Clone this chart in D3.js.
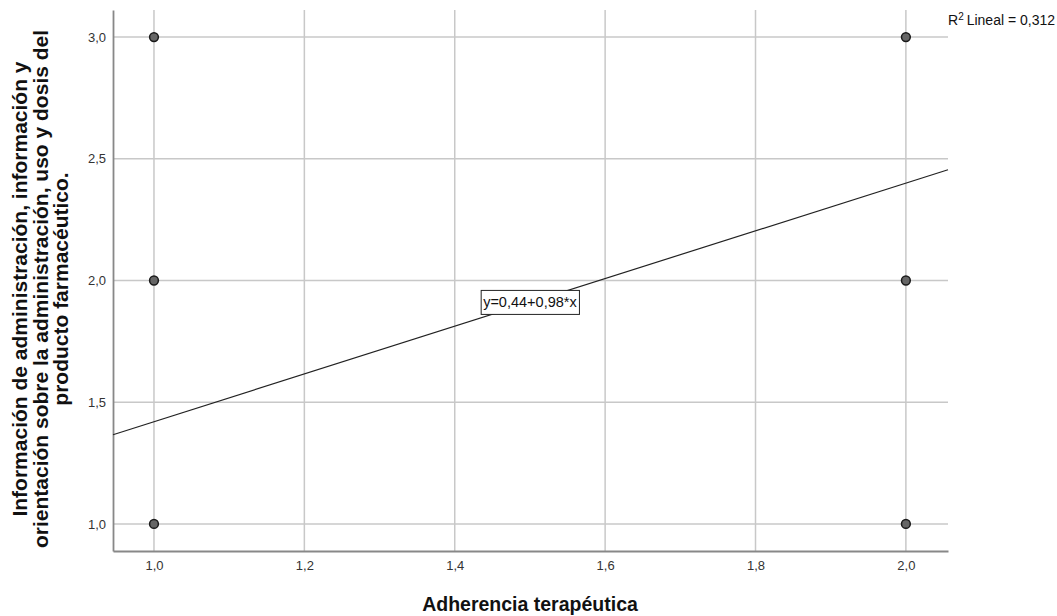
<!DOCTYPE html>
<html>
<head>
<meta charset="utf-8">
<script src="https://cdn.jsdelivr.net/npm/d3@7"></script>
<style>
  body { margin: 0; background: #fff; }
  svg { display: block; }
  text { font-family: Arial, "Liberation Sans", sans-serif; }
</style>
</head>
<body>
<svg id="chart" width="1057" height="616"></svg>
<script>
// Data
const xValues = [1, 1, 1, 2, 2, 2];
const yValues = [3, 2, 1, 3, 2, 1];
const xTicks = [1.0, 1.2, 1.4, 1.6, 1.8, 2.0];
const yTicks = [1.0, 1.5, 2.0, 2.5, 3.0];
const intercept = 0.44;
const slope = 0.98;
const equationLabel = "y=0,44+0,98*x";
const r2Label = "Lineal = 0,312";
const xTitle = "Adherencia terapéutica";
const yTitleLines = [
  "Información de administración, información y",
  "orientación sobre la administración, uso y dosis del",
  "producto farmacéutico."
];

const svg = d3.select("#chart");
const pLeft = 113, pRight = 948, pTop = 10, pBottom = 551;

const x = d3.scaleLinear().domain([0.9455, 2.056]).range([pLeft, pRight]);
const y = d3.scaleLinear().domain([0.889, 3.111]).range([pBottom, pTop]);
const fmt = d => d3.format(".1f")(d).replace(".", ",");

// grid
svg.append("g").selectAll("line").data(yTicks).join("line")
  .attr("x1", pLeft).attr("x2", pRight)
  .attr("y1", d => y(d)).attr("y2", d => y(d))
  .attr("stroke", "#c8c8c8").attr("stroke-width", 1.5);
svg.append("g").selectAll("line").data(xTicks).join("line")
  .attr("y1", pTop).attr("y2", pBottom)
  .attr("x1", d => x(d)).attr("x2", d => x(d))
  .attr("stroke", "#c8c8c8").attr("stroke-width", 1.5);

// axes
const yAxis = svg.append("g").attr("transform", `translate(${pLeft},0)`)
  .call(d3.axisLeft(y).tickValues(yTicks).tickFormat(fmt).tickSize(0).tickPadding(7));
const xAxis = svg.append("g").attr("transform", `translate(0,${pBottom})`)
  .call(d3.axisBottom(x).tickValues(xTicks).tickFormat(fmt).tickSize(0).tickPadding(10));
[yAxis, xAxis].forEach(g => {
  g.select(".domain").attr("stroke", "#888888").attr("stroke-width", 1.8);
  g.selectAll("text").attr("font-size", 13).attr("fill", "#333333")
    .attr("font-family", "Arial, 'Liberation Sans', sans-serif");
});

// regression line
const [d0, d1] = x.domain();
svg.append("line")
  .attr("x1", x(d0)).attr("y1", y(intercept + slope * d0))
  .attr("x2", x(d1)).attr("y2", y(intercept + slope * d1))
  .attr("stroke", "#222222").attr("stroke-width", 1.2);

// points
svg.append("g").selectAll("circle").data(xValues.map((v, i) => [v, yValues[i]])).join("circle")
  .attr("cx", d => x(d[0])).attr("cy", d => y(d[1])).attr("r", 4.4)
  .attr("fill", "#666666").attr("stroke", "#1a1a1a").attr("stroke-width", 1.5);

// equation label
const midX = 1.5;
const lx = x(midX), ly = y(intercept + slope * midX);
const eqRect = svg.append("rect");
const eq = svg.append("text").attr("x", lx).attr("y", ly + 5)
  .attr("text-anchor", "middle").attr("font-size", 14.5).attr("fill", "#111")
  .text(equationLabel);
const bb = eq.node().getBBox();
eqRect.attr("x", bb.x - 2).attr("y", ly - 12).attr("width", bb.width + 4).attr("height", 24)
  .attr("fill", "#fff").attr("stroke", "#222").attr("stroke-width", 1);

// R2 label
const r2 = svg.append("text").attr("x", 948).attr("y", 25).attr("font-size", 14).attr("fill", "#111");
r2.append("tspan").text("R");
r2.append("tspan").attr("font-size", 10).attr("dy", -5).text("2");
r2.append("tspan").attr("dy", 5).attr("dx", 3).text(r2Label);

// titles
svg.append("text").attr("x", 530).attr("y", 611)
  .attr("text-anchor", "middle").attr("font-size", 19.5).attr("font-weight", "bold")
  .attr("fill", "#111").text(xTitle);

const yt = svg.append("text").attr("transform", `translate(27,289) rotate(-90)`)
  .attr("text-anchor", "middle").attr("font-size", 21).attr("font-weight", "bold").attr("fill", "#111");
yTitleLines.forEach((l, i) => yt.append("tspan").attr("x", 0).attr("dy", i === 0 ? 0 : 20.5).text(l));
</script>
</body>
</html>
